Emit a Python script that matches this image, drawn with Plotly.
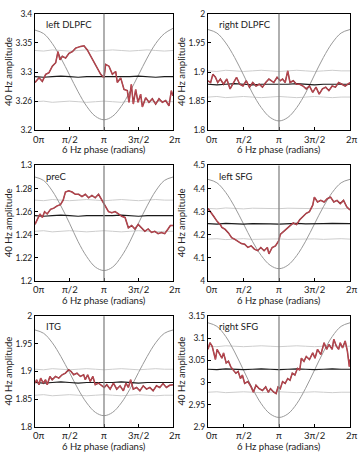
import numpy as np
import plotly.graph_objects as go

W, H = 362, 465

# ---------------- data ----------------
PANEL_NAMES = ["left DLPFC", "right DLPFC", "preC", "left SFG", "ITG", "right SFG"]
X_TICKS_PI = [0, 0.5, 1, 1.5, 2]
X_TICK_TEXT = ["0π", "π/2", "π", "3π/2", "2π"]

Y_RANGES = [[3.2, 3.4], [1.8, 2.0], [1.2, 1.3], [4.0, 4.5], [1.8, 2.0], [2.9, 3.15]]
Y_TICKS = [[3.2, 3.25, 3.3, 3.35, 3.4],
           [1.8, 1.85, 1.9, 1.95, 2.0],
           [1.2, 1.22, 1.24, 1.26, 1.28, 1.3],
           [4.0, 4.1, 4.2, 4.3, 4.4, 4.5],
           [1.8, 1.85, 1.9, 1.95, 2.0],
           [2.9, 2.95, 3.0, 3.05, 3.1, 3.15]]
Y_TICK_TEXT = [["3.2", "3.26", "3.3", "3.35", "3.4"],
               ["1.8", "1.85", "1.9", "1.95", "2"],
               ["1.2", "1.22", "1.24", "1.26", "1.28", "1.3"],
               ["4", "4.1", "4.2", "4.3", "4.4", "4.5"],
               ["1.8", "1.85", "1.9", "1.95", "2"],
               ["2.9", "2.95", "3", "3.05", "3.1", "3.15"]]

# common phase grid (units of pi) for reference/mean/bound curves
GRID_PI = [0, 0.125, 0.25, 0.375, 0.5, 0.625, 0.75, 0.875, 1.0,
           1.125, 1.25, 1.375, 1.5, 1.625, 1.75, 1.875, 2.0]

# gray 6 Hz reference waveform
cos_1 = [3.372, 3.366, 3.349, 3.324, 3.295, 3.266, 3.241, 3.224, 3.218, 3.224, 3.241, 3.266, 3.295, 3.324, 3.349, 3.366, 3.375]
cos_2 = [1.973, 1.967, 1.950, 1.925, 1.895, 1.864, 1.839, 1.822, 1.816, 1.822, 1.839, 1.864, 1.895, 1.925, 1.950, 1.967, 1.973]
cos_3 = [1.290, 1.287, 1.278, 1.265, 1.250, 1.234, 1.221, 1.212, 1.209, 1.212, 1.221, 1.234, 1.250, 1.265, 1.278, 1.287, 1.290]
cos_4 = [4.440, 4.425, 4.383, 4.321, 4.247, 4.172, 4.110, 4.068, 4.053, 4.068, 4.110, 4.172, 4.247, 4.321, 4.383, 4.425, 4.440]
cos_5 = [1.975, 1.969, 1.952, 1.927, 1.898, 1.868, 1.843, 1.826, 1.820, 1.826, 1.843, 1.868, 1.898, 1.927, 1.952, 1.969, 1.975]
cos_6 = [3.135, 3.127, 3.104, 3.069, 3.028, 2.987, 2.952, 2.929, 2.921, 2.929, 2.952, 2.987, 3.028, 3.069, 3.104, 3.127, 3.135]

# black mean line
mean_1 = [3.292, 3.291, 3.292, 3.293, 3.292, 3.291, 3.292, 3.292, 3.291, 3.292, 3.291, 3.292, 3.293, 3.292, 3.291, 3.292, 3.292]
mean_2 = [1.879, 1.878, 1.879, 1.880, 1.879, 1.878, 1.879, 1.879, 1.878, 1.879, 1.880, 1.879, 1.878, 1.879, 1.879, 1.878, 1.879]
mean_3 = [1.2565, 1.2560, 1.2565, 1.2570, 1.2565, 1.2560, 1.2565, 1.2565, 1.2560, 1.2565, 1.2570, 1.2565, 1.2560, 1.2565, 1.2565, 1.2560, 1.2565]
mean_4 = [4.248, 4.246, 4.249, 4.247, 4.246, 4.248, 4.249, 4.247, 4.246, 4.248, 4.249, 4.247, 4.246, 4.248, 4.249, 4.247, 4.248]
mean_5 = [1.880, 1.879, 1.880, 1.881, 1.880, 1.879, 1.880, 1.880, 1.879, 1.880, 1.881, 1.880, 1.879, 1.880, 1.880, 1.879, 1.880]
mean_6 = [3.030, 3.029, 3.031, 3.030, 3.029, 3.030, 3.031, 3.030, 3.029, 3.030, 3.031, 3.030, 3.029, 3.030, 3.031, 3.030, 3.030]

# light gray upper / lower bounds
upper_1 = [3.337, 3.336, 3.338, 3.337, 3.336, 3.337, 3.338, 3.336, 3.337, 3.338, 3.337, 3.336, 3.337, 3.338, 3.337, 3.336, 3.337]
lower_1 = [3.249, 3.250, 3.248, 3.249, 3.250, 3.249, 3.248, 3.249, 3.250, 3.249, 3.248, 3.250, 3.249, 3.248, 3.249, 3.250, 3.249]
upper_2 = [1.902, 1.901, 1.903, 1.902, 1.901, 1.902, 1.903, 1.902, 1.901, 1.902, 1.903, 1.902, 1.901, 1.902, 1.903, 1.902, 1.902]
lower_2 = [1.857, 1.858, 1.856, 1.857, 1.858, 1.857, 1.856, 1.857, 1.858, 1.857, 1.856, 1.857, 1.858, 1.857, 1.856, 1.857, 1.857]
upper_3 = [1.2700, 1.2695, 1.2705, 1.2700, 1.2695, 1.2700, 1.2705, 1.2700, 1.2695, 1.2700, 1.2705, 1.2700, 1.2695, 1.2700, 1.2705, 1.2700, 1.2700]
lower_3 = [1.2430, 1.2435, 1.2425, 1.2430, 1.2435, 1.2430, 1.2425, 1.2430, 1.2435, 1.2430, 1.2425, 1.2430, 1.2435, 1.2430, 1.2425, 1.2430, 1.2430]
upper_4 = [4.314, 4.312, 4.316, 4.313, 4.312, 4.315, 4.314, 4.312, 4.313, 4.315, 4.314, 4.312, 4.313, 4.315, 4.313, 4.312, 4.314]
lower_4 = [4.181, 4.183, 4.179, 4.182, 4.183, 4.180, 4.181, 4.183, 4.182, 4.180, 4.181, 4.183, 4.182, 4.180, 4.182, 4.183, 4.181]
upper_5 = [1.904, 1.903, 1.905, 1.904, 1.903, 1.904, 1.905, 1.904, 1.903, 1.904, 1.905, 1.904, 1.903, 1.904, 1.905, 1.904, 1.904]
lower_5 = [1.857, 1.858, 1.856, 1.857, 1.858, 1.857, 1.856, 1.857, 1.858, 1.857, 1.856, 1.857, 1.858, 1.857, 1.856, 1.857, 1.857]
upper_6 = [3.082, 3.081, 3.083, 3.082, 3.081, 3.082, 3.083, 3.082, 3.081, 3.082, 3.083, 3.082, 3.081, 3.082, 3.083, 3.082, 3.082]
lower_6 = [2.978, 2.979, 2.977, 2.978, 2.979, 2.978, 2.977, 2.978, 2.979, 2.978, 2.977, 2.978, 2.979, 2.978, 2.977, 2.978, 2.978]

# red: measured 40 Hz amplitude vs 6 Hz phase (phase in units of pi)
red_phase_1 = [0, .058, .106, .155, .203, .251, .300, .333, .362, .396, .444, .493, .541, .589, .662, .710, .758, .807, .855, .903, .952, 1.0, 1.024, 1.072, 1.121, 1.169, 1.193, 1.242, 1.290, 1.338, 1.362, 1.396, 1.425, 1.459, 1.493, 1.531, 1.556, 1.604, 1.652, 1.700, 1.749, 1.797, 1.845, 1.894, 1.942, 1.976, 2.0]
red_amp_1 = [3.282, 3.290, 3.284, 3.296, 3.299, 3.310, 3.316, 3.335, 3.321, 3.327, 3.324, 3.332, 3.335, 3.341, 3.344, 3.345, 3.338, 3.327, 3.316, 3.307, 3.296, 3.290, 3.313, 3.310, 3.296, 3.301, 3.282, 3.290, 3.270, 3.268, 3.248, 3.279, 3.245, 3.270, 3.248, 3.262, 3.240, 3.256, 3.248, 3.254, 3.245, 3.254, 3.248, 3.251, 3.242, 3.268, 3.259]

red_phase_2 = [0, .037, .068, .105, .137, .174, .219, .265, .311, .356, .402, .447, .493, .539, .584, .630, .676, .721, .767, .813, .858, .927, .973, 1.018, 1.050, 1.087, 1.123, 1.155, 1.201, 1.247, 1.292, 1.338, 1.384, 1.429, 1.475, 1.521, 1.566, 1.612, 1.658, 1.703, 1.749, 1.795, 1.840, 1.886, 1.932, 2.0]
red_amp_2 = [1.885, 1.882, 1.896, 1.891, 1.882, 1.888, 1.879, 1.888, 1.871, 1.882, 1.891, 1.879, 1.876, 1.885, 1.874, 1.882, 1.876, 1.879, 1.874, 1.882, 1.888, 1.882, 1.891, 1.885, 1.888, 1.882, 1.902, 1.882, 1.885, 1.879, 1.879, 1.876, 1.871, 1.876, 1.865, 1.874, 1.862, 1.871, 1.874, 1.868, 1.876, 1.874, 1.882, 1.879, 1.876, 1.882]

red_phase_3 = [0, .034, .072, .106, .139, .177, .225, .273, .321, .369, .408, .441, .489, .537, .585, .633, .681, .729, .777, .825, .873, .921, .969, 1.017, 1.065, 1.113, 1.161, 1.209, 1.257, 1.305, 1.353, 1.401, 1.448, 1.496, 1.544, 1.592, 1.640, 1.688, 1.736, 1.784, 1.832, 1.880, 1.928, 1.962, 2.0]
red_amp_3 = [1.249, 1.253, 1.258, 1.255, 1.260, 1.258, 1.262, 1.263, 1.265, 1.266, 1.270, 1.277, 1.278, 1.277, 1.275, 1.275, 1.273, 1.275, 1.272, 1.274, 1.272, 1.275, 1.270, 1.265, 1.260, 1.259, 1.260, 1.258, 1.256, 1.255, 1.246, 1.248, 1.245, 1.249, 1.246, 1.243, 1.245, 1.242, 1.243, 1.241, 1.242, 1.241, 1.245, 1.248, 1.248]

red_phase_4 = [0, .037, .082, .128, .174, .196, .242, .288, .333, .379, .425, .470, .516, .562, .607, .653, .699, .744, .790, .836, .858, .904, .950, .995, 1.018, 1.064, 1.110, 1.155, 1.201, 1.247, 1.292, 1.338, 1.384, 1.429, 1.475, 1.498, 1.543, 1.589, 1.635, 1.680, 1.726, 1.772, 1.817, 1.863, 1.909, 1.954, 2.0]
red_amp_4 = [4.314, 4.300, 4.279, 4.258, 4.244, 4.232, 4.223, 4.208, 4.187, 4.180, 4.170, 4.162, 4.159, 4.145, 4.152, 4.138, 4.131, 4.145, 4.131, 4.145, 4.117, 4.145, 4.152, 4.173, 4.201, 4.213, 4.223, 4.237, 4.251, 4.244, 4.265, 4.279, 4.293, 4.300, 4.328, 4.363, 4.342, 4.349, 4.342, 4.356, 4.363, 4.342, 4.349, 4.335, 4.349, 4.321, 4.307]

red_phase_5 = [0, .024, .058, .082, .120, .153, .177, .216, .249, .297, .345, .393, .441, .489, .523, .561, .609, .657, .705, .729, .763, .801, .839, .873, .921, .969, 1.003, 1.041, 1.089, 1.137, 1.185, 1.233, 1.281, 1.319, 1.353, 1.386, 1.424, 1.472, 1.520, 1.568, 1.616, 1.664, 1.712, 1.760, 1.808, 1.856, 1.904, 1.952, 2.0]
red_amp_5 = [1.879, 1.885, 1.876, 1.888, 1.879, 1.885, 1.876, 1.891, 1.885, 1.891, 1.888, 1.894, 1.897, 1.903, 1.900, 1.894, 1.897, 1.891, 1.894, 1.885, 1.894, 1.882, 1.891, 1.876, 1.879, 1.874, 1.871, 1.876, 1.868, 1.879, 1.868, 1.874, 1.865, 1.879, 1.871, 1.885, 1.868, 1.871, 1.865, 1.874, 1.868, 1.871, 1.865, 1.874, 1.871, 1.878, 1.871, 1.875, 1.876]

red_phase_6 = [0, .027, .059, .082, .105, .128, .164, .196, .219, .256, .288, .320, .356, .393, .425, .457, .484, .516, .562, .607, .639, .676, .721, .767, .813, .849, .881, .927, .959, .986, 1.018, 1.050, 1.087, 1.123, 1.155, 1.187, 1.224, 1.260, 1.292, 1.315, 1.352, 1.384, 1.429, 1.475, 1.507, 1.543, 1.589, 1.635, 1.671, 1.703, 1.749, 1.772, 1.808, 1.840, 1.863, 1.895, 1.932, 1.963, 1.991, 2.0]
red_amp_6 = [3.075, 3.090, 3.082, 3.067, 3.052, 3.075, 3.063, 3.055, 3.067, 3.044, 3.048, 3.036, 3.028, 3.021, 3.025, 3.009, 3.017, 2.998, 3.002, 2.990, 2.978, 2.994, 2.986, 2.982, 2.990, 2.978, 2.986, 2.978, 2.975, 2.990, 2.986, 3.002, 2.998, 3.009, 3.005, 3.021, 3.017, 3.032, 3.028, 3.055, 3.048, 3.059, 3.052, 3.067, 3.055, 3.075, 3.063, 3.090, 3.075, 3.086, 3.075, 3.098, 3.082, 3.075, 3.090, 3.078, 3.094, 3.071, 3.036, 3.052]

COS = [cos_1, cos_2, cos_3, cos_4, cos_5, cos_6]
MEAN = [mean_1, mean_2, mean_3, mean_4, mean_5, mean_6]
UPPER = [upper_1, upper_2, upper_3, upper_4, upper_5, upper_6]
LOWER = [lower_1, lower_2, lower_3, lower_4, lower_5, lower_6]
RED_PH = [red_phase_1, red_phase_2, red_phase_3, red_phase_4, red_phase_5, red_phase_6]
RED_AMP = [red_amp_1, red_amp_2, red_amp_3, red_amp_4, red_amp_5, red_amp_6]

# ---------------- layout (pixels) ----------------
COL_X = [(35, 173), (208, 350)]
ROW_Y = [(9, 128), (164, 282), (318, 431)]
FONT = "Lato"
TXT = "#222"


def px(xp):
    return xp / W


def py(yp):
    return 1 - yp / H


fig = go.Figure()
annotations = []
grid_rad = np.array(GRID_PI) * np.pi

for i in range(6):
    r, c = divmod(i, 2)
    n = i + 1
    xa = "x" if n == 1 else f"x{n}"
    ya = "y" if n == 1 else f"y{n}"
    x0, x1 = COL_X[c]
    yt, yb = ROW_Y[r]

    common = dict(xaxis=xa, yaxis=ya, showlegend=False, hoverinfo="skip", mode="lines")
    fig.add_trace(go.Scatter(x=grid_rad, y=UPPER[i], line=dict(color="#cdcdcd", width=1), **common))
    fig.add_trace(go.Scatter(x=grid_rad, y=LOWER[i], line=dict(color="#cdcdcd", width=1), **common))
    fig.add_trace(go.Scatter(x=grid_rad, y=COS[i], line=dict(color="#999999", width=1, shape="spline", smoothing=1.0), **common))
    fig.add_trace(go.Scatter(x=grid_rad, y=MEAN[i], line=dict(color="#1a1a1a", width=1.2), **common))
    rx = np.array(RED_PH[i]) * np.pi
    fig.add_trace(go.Scatter(x=rx, y=RED_AMP[i], line=dict(color="#8a2c33", width=1.5), **common))
    fig.add_trace(go.Scatter(x=rx, y=RED_AMP[i], line=dict(color="#de5c66", width=0.6), **common))

    fig.add_shape(type="line", xref=xa, yref=f"{ya} domain", x0=np.pi, x1=np.pi, y0=0, y1=1,
                  line=dict(color="#858585", width=1.3), layer="above")

    axis_common = dict(showline=True, linecolor="black", linewidth=1, mirror=True,
                       ticks="inside", ticklen=3, tickwidth=0.8, tickcolor="black",
                       showgrid=False, zeroline=False, fixedrange=True)
    fig.update_layout(**{
        ("xaxis" if n == 1 else f"xaxis{n}"): dict(
            domain=[px(x0), px(x1)], anchor=ya, range=[0, 2 * np.pi],
            tickvals=[t * np.pi for t in X_TICKS_PI], showticklabels=False, **axis_common),
        ("yaxis" if n == 1 else f"yaxis{n}"): dict(
            domain=[py(yb), py(yt)], anchor=xa, range=Y_RANGES[i],
            tickvals=Y_TICKS[i], ticktext=Y_TICK_TEXT[i],
            tickfont=dict(family=FONT, size=8.5, color=TXT), **axis_common),
    })

    # x tick labels (placed at tick values)
    for k, (tv, tt) in enumerate(zip(X_TICKS_PI, X_TICK_TEXT)):
        shift = 4 if k == 0 else (2 if k == len(X_TICKS_PI) - 1 else 0)
        annotations.append(dict(text=tt, x=tv * np.pi, xref=xa, y=py(yb + 9), yref="paper",
                                xanchor="center", yanchor="middle", xshift=shift, showarrow=False,
                                font=dict(family=FONT, size=9.5, color=TXT)))

    # panel label
    annotations.append(dict(text=PANEL_NAMES[i], x=px(x0 + 9), y=py(yt + 11), xref="paper", yref="paper",
                            xanchor="left", yanchor="middle", showarrow=False,
                            font=dict(family=FONT, size=9.5, color=TXT)))
    # x title
    annotations.append(dict(text="6 Hz phase (radians)", x=px((x0 + x1) / 2), y=py(yb + 20),
                            xref="paper", yref="paper", xanchor="center", yanchor="middle",
                            showarrow=False, font=dict(family=FONT, size=9.5, color=TXT)))
    # y title
    annotations.append(dict(text="40 Hz amplitude", x=px(x0 - 27), y=py((yt + yb) / 2),
                            xref="paper", yref="paper", xanchor="center", yanchor="middle",
                            textangle=-90, showarrow=False,
                            font=dict(family=FONT, size=9.5, color=TXT)))

fig.update_layout(width=W, height=H, margin=dict(l=0, r=0, t=0, b=0),
                  paper_bgcolor="white", plot_bgcolor="white",
                  annotations=annotations, font=dict(family=FONT))

fig.write_html("out.html", config={"displayModeBar": False})
